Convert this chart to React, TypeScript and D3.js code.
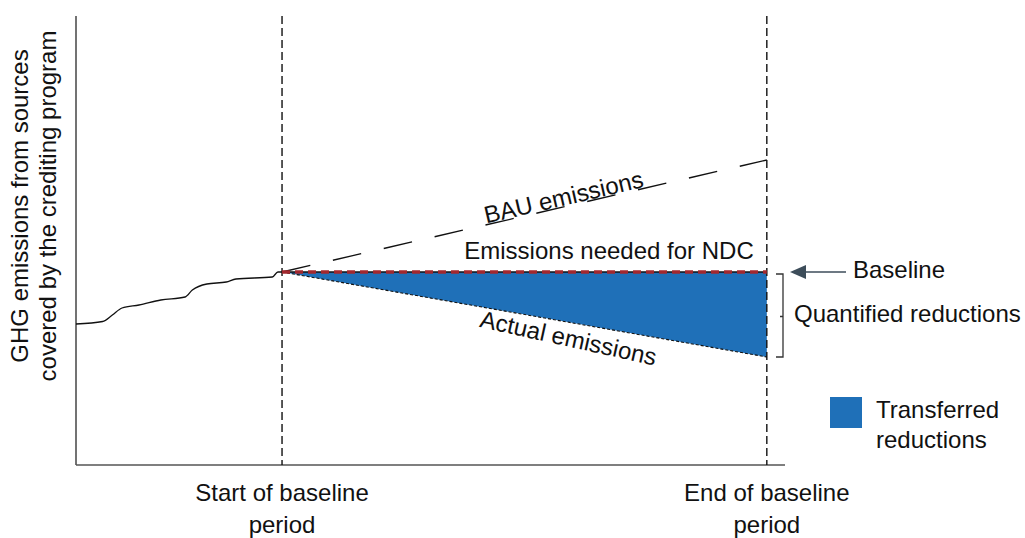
import React from "react";
import * as d3 from "d3";

const histYears = [2001.5, 2002.6, 2003.0, 2003.4, 2004.1, 2005.0, 2006.0, 2006.3, 2006.9, 2007.7, 2008.1, 2009.6, 2009.83, 2010];
const histValues = [141, 143.5, 150, 157, 160, 165, 168, 175, 181, 183, 186, 188, 193, 193];
const periodYears = [2010, 2030];
const bauValues = [193, 305];
const ndcValues = [193, 193];
const actualValues = [193, 108];
const xLabels = [["Start of baseline", "period"], ["End of baseline", "period"]];
const yLabel = ["GHG emissions from sources", "covered by the crediting program"];

const FONT = "'Liberation Sans', Arial, sans-serif";
const BLUE = "#1f70b8";
const FS = 24;

export default function App() {
  const W = 1025, H = 538;
  const x = d3.scaleLinear().domain([2001.5, 2030.75]).range([76, 785]);
  const y = d3.scaleLinear().domain([0, 449]).range([465, 16]);

  const hist = d3.line<number>().x((_, i) => x(histYears[i])).y((d) => y(d)).curve(d3.curveMonotoneX)(histValues) || "";
  const seg = (vals: number[]) => d3.line<number>().x((_, i) => x(periodYears[i])).y((d) => y(d))(vals) || "";
  const area = d3.area<number>().x((_, i) => x(periodYears[i])).y0((_, i) => y(ndcValues[i])).y1((d) => y(d))(actualValues) || "";

  const x0 = x(periodYears[0]), x1 = x(periodYears[1]);
  const bauAngle = (Math.atan2(y(bauValues[1]) - y(bauValues[0]), x1 - x0) * 180) / Math.PI;
  const actAngle = (Math.atan2(y(actualValues[1]) - y(actualValues[0]), x1 - x0) * 180) / Math.PI;
  const yB = y(ndcValues[1]);
  const yA = y(actualValues[1]);

  return (
    <svg width={W} height={H} style={{ position: "absolute", left: 0, top: 0, fontFamily: FONT }}>
      <rect width={W} height={H} fill="#fff" />
      <path d={area} fill={BLUE} />
      {/* axes */}
      <line x1={76} y1={y(449)} x2={76} y2={y(0)} stroke="#444" strokeWidth={1.5} />
      <line x1={76} y1={y(0)} x2={785} y2={y(0)} stroke="#555" strokeWidth={1.6} />
      {/* period lines */}
      {periodYears.map((p, i) => (
        <line key={i} x1={x(p)} x2={x(p)} y1={y(449)} y2={y(0)} stroke="#111" strokeWidth={1.4} strokeDasharray="8 4" />
      ))}
      <path d={hist} fill="none" stroke="#111" strokeWidth={1.3} />
      <path d={seg(bauValues)} fill="none" stroke="#111" strokeWidth={1.3} strokeDasharray="29 23.2" />
      <path d={seg(actualValues)} fill="none" stroke="#111" strokeWidth={1.1} strokeDasharray="3 2" />
      <path d={seg(ndcValues)} fill="none" stroke="#111" strokeWidth={1.3} />
      <path d={seg(ndcValues)} fill="none" stroke="#a3282e" strokeWidth={3.5} strokeDasharray="8 5" />

      {/* line labels */}
      <text x={564} y={199} fontSize={FS} textAnchor="middle" dominantBaseline="middle" transform={`rotate(${bauAngle} 564 199)`} fill="#111">BAU emissions</text>
      <text x={609} y={253} fontSize={FS} textAnchor="middle" dominantBaseline="middle" fill="#111">Emissions needed for NDC</text>
      <text x={568} y={340} fontSize={FS} textAnchor="middle" dominantBaseline="middle" transform={`rotate(${actAngle + 2.5} 568 340)`} fill="#111">Actual emissions</text>

      {/* baseline arrow */}
      <line x1={846} y1={yB} x2={800} y2={yB} stroke="#3d4d5a" strokeWidth={1.5} />
      <polygon points={`${790},${yB} ${806},${yB - 7} ${806},${yB + 7}`} fill="#3d4d5a" />
      <text x={853} y={yB} fontSize={FS} dominantBaseline="middle" fill="#111">Baseline</text>

      {/* bracket */}
      <path d={`M776,${yB + 2} H783 V${yA} H776 M783,${(yB + yA) / 2 + 2} H780`} fill="none" stroke="#333" strokeWidth={1.3} />
      <text x={794} y={(yB + yA) / 2 + 1} fontSize={FS} dominantBaseline="middle" fill="#111">Quantified reductions</text>

      {/* legend */}
      <rect x={830} y={397} width={32} height={31} fill={BLUE} />
      <text x={876} y={412} fontSize={FS} dominantBaseline="middle" fill="#111">Transferred</text>
      <text x={876} y={442} fontSize={FS} dominantBaseline="middle" fill="#111">reductions</text>

      {/* x labels */}
      {periodYears.map((p, i) => (
        <g key={i}>
          <text x={x(p)} y={495} fontSize={FS} textAnchor="middle" dominantBaseline="middle" fill="#111">{xLabels[i][0]}</text>
          <text x={x(p)} y={527} fontSize={FS} textAnchor="middle" dominantBaseline="middle" fill="#111">{xLabels[i][1]}</text>
        </g>
      ))}

      {/* y label */}
      <g transform="translate(22,206) rotate(-90)">
        <text x={0} y={0} fontSize={FS} textAnchor="middle" dominantBaseline="middle" fill="#111">{yLabel[0]}</text>
        <text x={0} y={28} fontSize={FS} textAnchor="middle" dominantBaseline="middle" fill="#111">{yLabel[1]}</text>
      </g>
    </svg>
  );
}
